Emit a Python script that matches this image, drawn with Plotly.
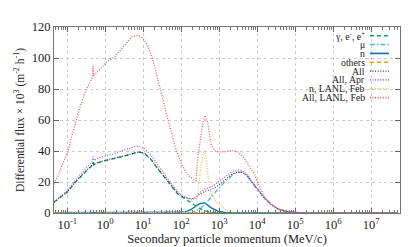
import plotly.graph_objects as go

# ---------------- data (momentum in MeV/c, flux x 10^3 m^-2 h^-1) ----------------
p_grid = [0.0447, 0.063, 0.1, 0.158, 0.214, 0.316, 0.447, 0.479, 0.5, 0.631, 1.0, 1.58,
          2.63, 3.98, 6.31, 7.94, 11.0, 16.2, 24.5, 36.3, 55.0, 81.3, 123, 182, 245,
          302, 417, 617, 933, 1514, 2239, 3162, 3981, 5623, 6918, 10471, 15488,
          23442, 34674, 63096, 125893, 316228, 1.0e6, 5.0e7]

gamma_e = [7.0, 9.8, 13.5, 19.5, 23.0, 27.0, 30.5, 32.5, 31.0, 32.3, 33.8, 34.8,
           36.2, 37.3, 38.8, 39.2, 38.3, 34.3, 28.3, 22.8, 17.0, 12.2, 9.3, 6.5, 4.5,
           3.0, 1.5, 0.5, 0.1, 0, 0, 0, 0, 0, 0, 0, 0, 0, 0, 0, 0, 0, 0, 0]

muon = [0, 0, 0, 0, 0, 0, 0, 0, 0, 0, 0, 0, 0, 0, 0, 0, 0, 0, 0, 0, 0, 0, 0, 0.3, 1.2,
        2.5, 5.4, 10.5, 15.5, 20.8, 24.5, 26.3, 26.2, 23.5, 20.0, 14.8, 9.4, 5.4,
        2.7, 0.8, 0.2, 0, 0, 0]

neutron = [0.3, 0.3, 0.3, 0.3, 0.3, 0.3, 0.3, 0.3, 0.3, 0.3, 0.3, 0.3, 0.3, 0.3, 0.3,
           0.3, 0.3, 0.3, 0.3, 0.3, 0.3, 0.3, 0.5, 2.3, 4.3, 6.0, 6.5, 3.3, 1.2, 0.3,
           0.1, 0, 0, 0, 0, 0, 0, 0, 0, 0, 0, 0, 0, 0]

others = [0.4, 0.4, 0.4, 0.4, 0.4, 0.4, 0.4, 0.4, 0.4, 0.4, 0.4, 0.4, 0.4, 0.4, 0.4,
          0.4, 0.4, 0.4, 0.4, 0.4, 0.4, 0.4, 0.5, 0.6, 0.6, 0.6, 0.6, 0.5, 0.3, 0.2,
          0.1, 0, 0, 0, 0, 0, 0, 0, 0, 0, 0, 0, 0, 0]

all_feb = [7.0, 9.8, 13.6, 19.6, 23.2, 27.3, 31.0, 33.0, 31.5, 32.6, 34.0, 35.0,
           36.4, 37.5, 39.0, 39.4, 38.5, 34.6, 28.6, 23.1, 17.3, 12.5, 9.8, 9.2, 10.0,
           12.0, 14.0, 15.0, 17.8, 22.0, 25.2, 26.5, 26.3, 24.0, 20.5, 15.0, 9.5,
           5.5, 2.7, 0.8, 0.2, 0, 0, 0]

all_apr = [7.5, 10.5, 14.5, 20.8, 24.8, 29.3, 33.0, 36.3, 34.0, 35.2, 36.8, 38.0,
           40.0, 41.5, 43.0, 43.0, 41.4, 37.3, 31.0, 25.0, 18.8, 13.6, 10.5, 8.5, 9.5,
           13.0, 15.5, 16.7, 19.8, 24.0, 26.8, 27.5, 27.3, 24.5, 21.0, 15.5, 10.0,
           5.8, 2.9, 0.9, 0.2, 0, 0, 0]

p_lanl_n = [0.0447, 1.0, 100, 200, 245, 280, 330, 400, 440, 500, 617, 800, 1100,
            1500, 2200, 3200, 10000, 5.0e7]
n_lanl = [0.3, 0.3, 0.3, 0.5, 2.0, 17.0, 31.0, 40.4, 38.0, 25.0, 12.6, 7.4, 4.3,
          1.9, 0.6, 0.2, 0, 0]

p_lanl_all = [0.0447, 0.0575, 0.0708, 0.105, 0.132, 0.17, 0.214, 0.295, 0.398,
              0.468, 0.479, 0.49, 0.575, 1.1, 1.82, 3.02, 5.01, 6.76, 8.13, 10.0,
              13.2, 18.2, 22.4, 27.5, 33.0, 40.7, 50.0, 55.0, 74.0, 100, 135, 182,
              245, 275, 371, 417, 500, 617, 830, 1380, 2100, 3090, 4680, 6920, 8500,
              10500, 12600, 15500, 23400, 34700, 77600, 158000, 1.0e6, 5.0e7]
all_lanl = [19.0, 24.0, 30.0, 40.0, 50.0, 60.0, 68.0, 78.0, 85.0, 88.0, 95.0, 88.5,
            90.0, 97.5, 101.0, 107.6, 113.7, 114.6, 114.0, 112.6, 108.0, 98.0, 89.0,
            81.6, 73.6, 64.0, 56.0, 51.8, 40.4, 32.0, 26.0, 22.9, 20.8, 37.0, 58.0,
            63.0, 58.0, 43.5, 39.4, 39.4, 40.4, 39.4, 35.0, 29.0, 25.0, 19.0, 14.7,
            10.5, 5.4, 2.3, 0.6, 0.1, 0, 0]

legend_labels = ["γ, e<sup>-</sup>, e<sup>+</sup>", "μ", "n", "others", "All",
                 "All, Apr", "n, LANL, Feb", "All, LANL, Feb"]
x_tick_labels = ["10<sup>-1</sup>", "10<sup>0</sup>", "10<sup>1</sup>", "10<sup>2</sup>",
                 "10<sup>3</sup>", "10<sup>4</sup>", "10<sup>5</sup>", "10<sup>6</sup>",
                 "10<sup>7</sup>"]
x_tick_vals = [1e-1, 1e0, 1e1, 1e2, 1e3, 1e4, 1e5, 1e6, 1e7]

# ---------------- styles ----------------
DOT = "1px,1.6px"
styles = [
    dict(color="#009e73", dash="4px,3px", width=1.3),
    dict(color="#56b4e9", dash="5px,2px,1.5px,2px", width=1.2),
    dict(color="#0072b2", dash="solid", width=1.3),
    dict(color="#e69f00", dash="4px,3px", width=1.1),
    dict(color="#333333", dash=DOT, width=1.1),
    dict(color="#b15ae6", dash=DOT, width=1.3),
    dict(color="#f5c04a", dash=DOT, width=1.3),
    dict(color="#ee5a5a", dash=DOT, width=1.3),
]

series = [
    (p_grid, others),
    (p_grid, neutron),
    (p_grid, muon),
    (p_grid, gamma_e),
    (p_grid, all_feb),
    (p_grid, all_apr),
    (p_lanl_n, n_lanl),
    (p_lanl_all, all_lanl),
]
order = [3, 2, 1, 0, 4, 5, 6, 7]  # index into legend_labels/styles for each series

fig = go.Figure()
for (xs, ys), k in zip(series, order):
    fig.add_trace(go.Scatter(x=xs, y=ys, mode="lines", name=legend_labels[k],
                             line=dict(color=styles[k]["color"], dash=styles[k]["dash"],
                                       width=styles[k]["width"]),
                             showlegend=False, hoverinfo="skip"))

FONT = "Liberation Serif"

# custom gnuplot-style legend: right-aligned text, sample to the right
y0 = 0.953
dy = 0.0475
for i, lab in enumerate(legend_labels):
    yy = y0 - i * dy
    fig.add_annotation(xref="paper", yref="paper", x=0.903, y=yy, text=lab,
                       showarrow=False, xanchor="right", yanchor="middle",
                       font=dict(family=FONT, size=9.8, color="#222222"),
                       borderpad=0)
    fig.add_shape(type="line", xref="paper", yref="paper", x0=0.913, x1=0.968,
                  y0=yy, y1=yy,
                  line=dict(color=styles[i]["color"], dash=styles[i]["dash"],
                            width=styles[i]["width"] + 0.3))

fig.update_layout(
    width=411, height=247,
    margin=dict(l=46, r=19, t=13, b=40),
    paper_bgcolor="white", plot_bgcolor="white",
    font=dict(family=FONT, size=12.5, color="#222222"),
    showlegend=False,
)
fig.update_xaxes(
    type="log", range=[-1.35, 7.76],
    tickmode="array", tickvals=x_tick_vals, ticktext=x_tick_labels,
    ticks="inside", ticklen=5, tickcolor="#666666", mirror="allticks",
    showline=True, linecolor="#777777", linewidth=1,
    showgrid=True, gridcolor="#cccccc", griddash="dot", gridwidth=1,
    minor=dict(ticks="inside", ticklen=3, tickcolor="#777777", showgrid=False,
               tickmode="array",
               tickvals=[m * 10 ** e for e in range(-2, 8) for m in range(2, 10)]),
    tickfont=dict(family=FONT, size=12.5),
    title=dict(text="Secondary particle momentum (MeV/c)", standoff=2,
               font=dict(family=FONT, size=12.5)),
    zeroline=False,
)
fig.update_yaxes(
    range=[0, 120], dtick=20,
    ticks="inside", ticklen=5, tickcolor="#666666", mirror="allticks",
    showline=True, linecolor="#777777", linewidth=1,
    showgrid=True, gridcolor="#cccccc", griddash="dot", gridwidth=1,
    tickfont=dict(family=FONT, size=12.5),
    title=dict(text="Differential flux × 10<sup>3</sup> (m<sup>-2</sup> h<sup>-1</sup>)",
               standoff=4, font=dict(family=FONT, size=11.5)),
    zeroline=False,
)

fig.write_html("out.html")
